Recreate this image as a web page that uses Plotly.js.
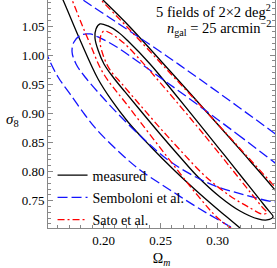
<!DOCTYPE html>
<html><head><meta charset="utf-8">
<script src="https://cdn.plot.ly/plotly-3.0.1.min.js"></script>
<style>html,body{margin:0;padding:0;background:#fff}#g{width:277px;height:268px}</style>
</head><body><div id="g"></div>
<script>
// Contours (Omega_m, sigma_8)
var measured_in_om = [0.2627,0.2882,0.3066,0.3241,0.3373,0.3443,0.3487,0.3434,0.3355,0.3197,0.3022,0.2829,0.2671,0.2496,0.2320,0.2189,0.2083,0.2004,0.1952,0.1925,0.1934,0.1969,0.2039,0.2127,0.2215,0.2408,0.2627];
var measured_in_s8 = [0.9333,0.8715,0.8268,0.7838,0.7512,0.7340,0.7220,0.7168,0.7186,0.7323,0.7564,0.7907,0.8251,0.8646,0.9058,0.9368,0.9625,0.9849,1.0089,1.0296,1.0450,1.0536,1.0502,1.0399,1.0244,0.9849,0.9333];
var measured_out_om = [0.1706,0.1838,0.1996,0.2215,0.2583,0.3022,0.3285,0.3504,0.3724,0.3899,0.3724,0.3461,0.3241,0.3039,0.2846,0.2627,0.2408,0.2215,0.2075,0.1952,0.1794,0.1645,0.1557,0.1601,0.1706];
var measured_out_s8 = [1.1498,1.1258,1.0948,1.0519,0.9728,0.8766,0.8182,0.7684,0.7151,0.6653,0.6447,0.6653,0.6962,0.7289,0.7615,0.8010,0.8440,0.8852,0.9213,0.9591,1.0261,1.0948,1.1326,1.1515,1.1498];
var sato_in_om = [0.2671,0.2890,0.3110,0.3285,0.3390,0.3434,0.3390,0.3285,0.3110,0.2890,0.2671,0.2496,0.2320,0.2162,0.2057,0.1996,0.1969,0.1978,0.2004,0.2057,0.2145,0.2215,0.2408,0.2671];
var sato_in_s8 = [0.9127,0.8612,0.8079,0.7649,0.7392,0.7289,0.7271,0.7375,0.7581,0.7924,0.8371,0.8749,0.9144,0.9505,0.9746,1.0003,1.0227,1.0347,1.0416,1.0381,1.0261,1.0141,0.9728,0.9127];
var sato_out_om = [0.1706,0.1838,0.1978,0.2215,0.2583,0.2952,0.3241,0.3504,0.3724,0.3882,0.3811,0.3548,0.3285,0.3022,0.2829,0.2539,0.2215,0.1996,0.1882,0.1794,0.1724,0.1636,0.1601,0.1706];
var sato_out_s8 = [1.1498,1.1241,1.0948,1.0467,0.9694,0.8921,0.8302,0.7735,0.7237,0.6790,0.6550,0.6567,0.6825,0.7168,0.7581,0.8302,0.9127,0.9694,1.0192,1.0605,1.0948,1.1326,1.1515,1.1498];
var semb_in_om = [0.2829,0.3171,0.3504,0.3654,0.3750,0.3680,0.3504,0.3241,0.2978,0.2759,0.2566,0.2390,0.2197,0.2013,0.1838,0.1759,0.1724,0.1741,0.1803,0.1882,0.1952,0.2101,0.2294,0.2539,0.2829];
var semb_in_s8 = [0.9144,0.8646,0.8148,0.7907,0.7684,0.7495,0.7478,0.7598,0.7753,0.7959,0.8199,0.8491,0.8852,0.9230,0.9625,0.9849,1.0055,1.0227,1.0347,1.0364,1.0313,1.0158,0.9900,0.9557,0.9144];
var semb_out_om = [0.1443,0.1618,0.1820,0.2057,0.2294,0.2566,0.2829,0.3171,0.3496,0.3811,0.4031,0.4118,0.3987,0.3724,0.3548,0.3197,0.2846,0.2583,0.2320,0.2127,0.1943,0.1838,0.1706,0.1601,0.1513,0.1443,0.1373,0.1355,0.1382,0.1443];
var semb_out_s8 = [1.1412,1.1206,1.0948,1.0639,1.0330,0.9969,0.9608,0.9127,0.8663,0.8199,0.7770,0.7254,0.6739,0.6481,0.6619,0.6962,0.7357,0.7684,0.8027,0.8354,0.8715,0.8972,0.9333,0.9625,0.9969,1.0347,1.0948,1.1258,1.1395,1.1412];
var seriesNames = ['measured','Semboloni et al.','Sato et al.'];
var xTicks = [0.20,0.25,0.30];
var yTicks = [0.75,0.80,0.85,0.90,0.95,1.00,1.05];

var sty = {
  measured:{color:'#000000',width:1.3,dash:'solid'},
  semb:{color:'#1414ff',width:1.3,dash:'10px,4px'},
  sato:{color:'#ff0000',width:1.3,dash:'7px,3px,2px,3px'}
};
function tr(x,y,st,name,show){return {x:x,y:y,mode:'lines',line:Object.assign({shape:'spline',smoothing:1},st),name:name,showlegend:show,legendgroup:name,hoverinfo:'skip'};}
var traces=[
  tr(measured_in_om,measured_in_s8,sty.measured,seriesNames[0],true),
  tr(measured_out_om,measured_out_s8,sty.measured,seriesNames[0],false),
  tr(semb_in_om,semb_in_s8,sty.semb,seriesNames[1],true),
  tr(semb_out_om,semb_out_s8,sty.semb,seriesNames[1],false),
  tr(sato_in_om,sato_in_s8,sty.sato,seriesNames[2],true),
  tr(sato_out_om,sato_out_s8,sty.sato,seriesNames[2],false)
];
var F='Liberation Serif, Times New Roman, serif';
var layout={width:277,height:268,margin:{l:48,r:2,t:0,b:40},paper_bgcolor:'#fff',plot_bgcolor:'#fff',showlegend:true,
 font:{family:F,size:13,color:'#000'},
 legend:{x:0.02,y:0.30,xanchor:'left',yanchor:'top',bgcolor:'rgba(0,0,0,0)',font:{family:F,size:14},tracegroupgap:1,itemwidth:30},
 xaxis:{range:[0.1513,0.3504],tickmode:'array',tickvals:xTicks,ticktext:xTicks.map(function(v){return v.toFixed(2);}),ticks:'inside',ticklen:5,tickcolor:'#888',showline:true,linecolor:'#888',linewidth:1,mirror:false,showgrid:false,zeroline:false,minor:{dtick:0.01,tick0:0,ticks:'inside',ticklen:3,tickcolor:'#888'},tickfont:{family:F,size:13},title:{text:'Ω<sub><i>m</i></sub>',font:{family:F,size:14},standoff:6}},
 yaxis:{range:[0.703,1.0948],tickmode:'array',tickvals:yTicks,ticktext:yTicks.map(function(v){return v.toFixed(2);}),ticks:'inside',ticklen:5,tickcolor:'#888',showline:true,linecolor:'#888',linewidth:1,mirror:'ticks',showgrid:false,zeroline:false,minor:{dtick:0.01,tick0:0,ticks:'inside',ticklen:3,tickcolor:'#888'},tickfont:{family:F,size:13}},
 annotations:[
  {xref:'paper',yref:'paper',x:-0.155,y:0.475,text:'<i>σ</i><sub>8</sub>',showarrow:false,font:{family:F,size:15},xanchor:'center'},
  {xref:'paper',yref:'paper',x:0.99,y:1.0,xanchor:'right',yanchor:'top',showarrow:false,text:'5 fields of 2×2 deg<sup>2</sup>',font:{family:F,size:14.5}},
  {xref:'paper',yref:'paper',x:0.99,y:0.93,xanchor:'right',yanchor:'top',showarrow:false,text:'<i>n</i><sub>gal</sub> = 25 arcmin<sup>−2</sup>',font:{family:F,size:14.5}}
 ]};
Plotly.newPlot('g',traces,layout,{staticPlot:true,displayModeBar:false});
</script></body></html>
